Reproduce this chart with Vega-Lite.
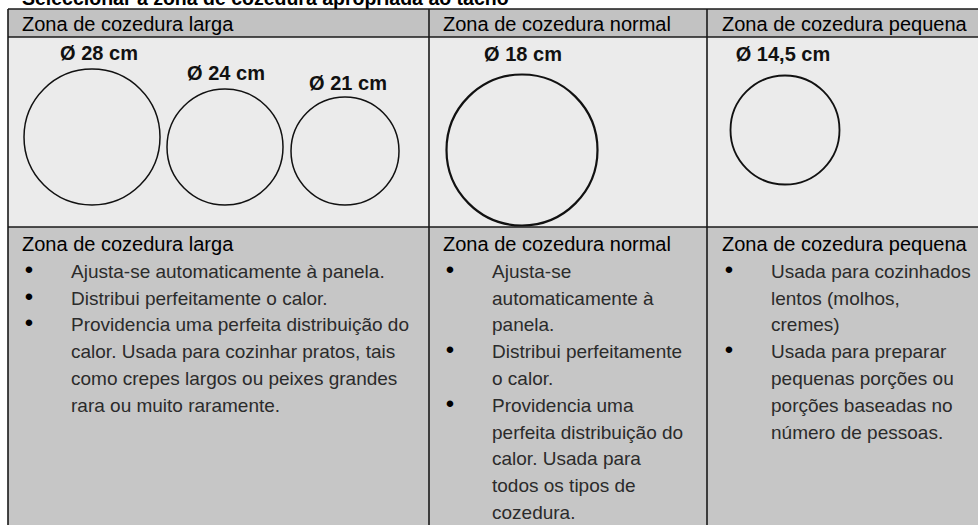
{
  "$schema": "https://vega.github.io/schema/vega-lite/v6.json",
  "width": 978,
  "height": 525,
  "autosize": {"type": "none"},
  "padding": 0,
  "background": "white",
  "config": {"view": {"stroke": null}},
  "datasets": {
    "faixas": [
      {"faixa": "cabecalho", "esq": 8, "dir": 978, "topo": 9, "base": 37},
      {"faixa": "circulos", "esq": 8, "dir": 978, "topo": 37, "base": 227},
      {"faixa": "descricao", "esq": 8, "dir": 978, "topo": 227, "base": 525}
    ],
    "grelha": [
      {"x1": 8, "y1": 9, "x2": 978, "y2": 9},
      {"x1": 8, "y1": 37, "x2": 978, "y2": 37},
      {"x1": 8, "y1": 227, "x2": 978, "y2": 227},
      {"x1": 8, "y1": 9, "x2": 8, "y2": 525},
      {"x1": 429, "y1": 9, "x2": 429, "y2": 525},
      {"x1": 707, "y1": 9, "x2": 707, "y2": 525}
    ],
    "zonas": [
      {"zona": "larga", "diametro": "Ø 28 cm", "cx": 92, "cy": 137, "tracado": 136, "rx": 99, "ry": 60, "espessura": "fina"},
      {"zona": "larga", "diametro": "Ø 24 cm", "cx": 225, "cy": 147, "tracado": 116, "rx": 226, "ry": 80, "espessura": "fina"},
      {"zona": "larga", "diametro": "Ø 21 cm", "cx": 345, "cy": 151, "tracado": 108, "rx": 348, "ry": 90, "espessura": "fina"},
      {"zona": "normal", "diametro": "Ø 18 cm", "cx": 522, "cy": 150, "tracado": 151, "rx": 523, "ry": 61, "espessura": "grossa"},
      {"zona": "pequena", "diametro": "Ø 14,5 cm", "cx": 785, "cy": 130, "tracado": 109, "rx": 783, "ry": 61, "espessura": "media"}
    ],
    "cabecalhos": [
      {"nivel": 0, "coluna": 0, "texto": "Seleccionar a zona de cozedura apropriada ao tacho"},
      {"nivel": 1, "coluna": 0, "texto": "Zona de cozedura larga"},
      {"nivel": 1, "coluna": 1, "texto": "Zona de cozedura normal"},
      {"nivel": 1, "coluna": 2, "texto": "Zona de cozedura pequena"}
    ],
    "descricao": [
      {"coluna": 0, "linha": 0, "texto": "Zona de cozedura larga", "marcador": false},
      {"coluna": 0, "linha": 1, "texto": "Ajusta-se automaticamente à panela.", "marcador": true},
      {"coluna": 0, "linha": 2, "texto": "Distribui perfeitamente o calor.", "marcador": true},
      {"coluna": 0, "linha": 3, "texto": "Providencia uma perfeita distribuição do", "marcador": true},
      {"coluna": 0, "linha": 4, "texto": "calor. Usada para cozinhar pratos, tais", "marcador": false},
      {"coluna": 0, "linha": 5, "texto": "como crepes largos ou peixes grandes", "marcador": false},
      {"coluna": 0, "linha": 6, "texto": "rara ou muito raramente.", "marcador": false},
      {"coluna": 1, "linha": 0, "texto": "Zona de cozedura normal", "marcador": false},
      {"coluna": 1, "linha": 1, "texto": "Ajusta-se", "marcador": true},
      {"coluna": 1, "linha": 2, "texto": "automaticamente à", "marcador": false},
      {"coluna": 1, "linha": 3, "texto": "panela.", "marcador": false},
      {"coluna": 1, "linha": 4, "texto": "Distribui perfeitamente", "marcador": true},
      {"coluna": 1, "linha": 5, "texto": "o calor.", "marcador": false},
      {"coluna": 1, "linha": 6, "texto": "Providencia uma", "marcador": true},
      {"coluna": 1, "linha": 7, "texto": "perfeita distribuição do", "marcador": false},
      {"coluna": 1, "linha": 8, "texto": "calor. Usada para", "marcador": false},
      {"coluna": 1, "linha": 9, "texto": "todos os tipos de", "marcador": false},
      {"coluna": 1, "linha": 10, "texto": "cozedura.", "marcador": false},
      {"coluna": 2, "linha": 0, "texto": "Zona de cozedura pequena", "marcador": false},
      {"coluna": 2, "linha": 1, "texto": "Usada para cozinhados", "marcador": true},
      {"coluna": 2, "linha": 2, "texto": "lentos (molhos,", "marcador": false},
      {"coluna": 2, "linha": 3, "texto": "cremes)", "marcador": false},
      {"coluna": 2, "linha": 4, "texto": "Usada para preparar", "marcador": true},
      {"coluna": 2, "linha": 5, "texto": "pequenas porções ou", "marcador": false},
      {"coluna": 2, "linha": 6, "texto": "porções baseadas no", "marcador": false},
      {"coluna": 2, "linha": 7, "texto": "número de pessoas.", "marcador": false}
    ]
  },
  "layer": [
    {
      "data": {"name": "faixas"},
      "mark": {"type": "rect"},
      "encoding": {
        "x": {"field": "esq", "type": "quantitative", "scale": {"domain": [0, 978], "range": [0, 978], "nice": false, "zero": false}, "axis": null},
        "x2": {"field": "dir"},
        "y": {"field": "topo", "type": "quantitative", "scale": {"domain": [0, 525], "range": [0, 525], "nice": false, "zero": false}, "axis": null},
        "y2": {"field": "base"},
        "fill": {"field": "faixa", "type": "nominal", "scale": {"domain": ["cabecalho", "circulos", "descricao"], "range": ["#c2c2c2", "#ebebeb", "#c6c6c6"]}, "legend": null}
      }
    },
    {
      "data": {"name": "grelha"},
      "mark": {"type": "rule", "color": "#1a1a1a", "strokeWidth": 1.6},
      "encoding": {
        "x": {"field": "x1", "type": "quantitative", "scale": {"domain": [0, 978], "range": [0, 978], "nice": false, "zero": false}, "axis": null},
        "x2": {"field": "x2"},
        "y": {"field": "y1", "type": "quantitative", "scale": {"domain": [0, 525], "range": [0, 525], "nice": false, "zero": false}, "axis": null},
        "y2": {"field": "y2"}
      }
    },
    {
      "data": {"name": "zonas"},
      "mark": {"type": "point", "shape": "circle", "filled": false, "color": "#111", "opacity": 1},
      "encoding": {
        "x": {"field": "cx", "type": "quantitative", "scale": {"domain": [0, 978], "range": [0, 978], "nice": false, "zero": false}, "axis": null},
        "y": {"field": "cy", "type": "quantitative", "scale": {"domain": [0, 525], "range": [0, 525], "nice": false, "zero": false}, "axis": null},
        "size": {"field": "tracado", "type": "quantitative", "scale": {"type": "pow", "exponent": 2, "domain": [0, 200], "range": [0, 40000]}, "legend": null},
        "strokeWidth": {"field": "espessura", "type": "nominal", "scale": {"domain": ["fina", "media", "grossa"], "range": [1.5, 2.2, 3]}, "legend": null}
      }
    },
    {
      "data": {"name": "zonas"},
      "mark": {"type": "text", "font": "Liberation Sans", "fontWeight": "bold", "fontSize": 20, "color": "#111", "align": "center", "baseline": "alphabetic"},
      "encoding": {
        "x": {"field": "rx", "type": "quantitative", "scale": {"domain": [0, 978], "range": [0, 978], "nice": false, "zero": false}, "axis": null},
        "y": {"field": "ry", "type": "quantitative", "scale": {"domain": [0, 525], "range": [0, 525], "nice": false, "zero": false}, "axis": null},
        "text": {"field": "diametro"}
      }
    },
    {
      "data": {"name": "cabecalhos"},
      "transform": [{"filter": "datum.nivel == 0"}],
      "mark": {"type": "text", "font": "Liberation Sans", "fontWeight": "bold", "fontSize": 19.5, "color": "#000", "align": "left", "baseline": "alphabetic"},
      "encoding": {
        "x": {"field": "coluna", "type": "quantitative", "scale": {"domain": [0, 1, 2], "range": [22, 443, 722], "nice": false, "zero": false}, "axis": null},
        "y": {"field": "nivel", "type": "quantitative", "scale": {"domain": [0, 1], "range": [5, 31], "nice": false, "zero": false}, "axis": null},
        "text": {"field": "texto"}
      }
    },
    {
      "data": {"name": "cabecalhos"},
      "transform": [{"filter": "datum.nivel == 1"}],
      "mark": {"type": "text", "font": "Liberation Sans", "fontSize": 20, "color": "#000", "align": "left", "baseline": "alphabetic"},
      "encoding": {
        "x": {"field": "coluna", "type": "quantitative", "scale": {"domain": [0, 1, 2], "range": [22, 443, 722], "nice": false, "zero": false}, "axis": null},
        "y": {"field": "nivel", "type": "quantitative", "scale": {"domain": [0, 1], "range": [5, 31], "nice": false, "zero": false}, "axis": null},
        "text": {"field": "texto"}
      }
    },
    {
      "data": {"name": "descricao"},
      "transform": [{"filter": "datum.linha == 0"}],
      "mark": {"type": "text", "font": "Liberation Sans", "fontSize": 20, "color": "#000", "align": "left", "baseline": "alphabetic"},
      "encoding": {
        "x": {"field": "coluna", "type": "quantitative", "scale": {"domain": [0, 1, 2], "range": [22, 443, 722], "nice": false, "zero": false}, "axis": null},
        "y": {"field": "linha", "type": "quantitative", "scale": {"domain": [0, 10], "range": [251, 519], "nice": false, "zero": false}, "axis": null},
        "text": {"field": "texto"}
      }
    },
    {
      "data": {"name": "descricao"},
      "transform": [{"filter": "datum.linha > 0"}],
      "mark": {"type": "text", "font": "Liberation Sans", "fontSize": 19, "color": "#2b2b2b", "align": "left", "baseline": "alphabetic", "dx": 49},
      "encoding": {
        "x": {"field": "coluna", "type": "quantitative", "scale": {"domain": [0, 1, 2], "range": [22, 443, 722], "nice": false, "zero": false}, "axis": null},
        "y": {"field": "linha", "type": "quantitative", "scale": {"domain": [0, 10], "range": [251, 519], "nice": false, "zero": false}, "axis": null},
        "text": {"field": "texto"}
      }
    },
    {
      "data": {"name": "descricao"},
      "transform": [{"filter": "datum.marcador"}],
      "mark": {"type": "text", "text": "•", "font": "Liberation Sans", "fontSize": 24, "color": "#000", "align": "center", "baseline": "alphabetic", "dx": 7},
      "encoding": {
        "x": {"field": "coluna", "type": "quantitative", "scale": {"domain": [0, 1, 2], "range": [22, 443, 722], "nice": false, "zero": false}, "axis": null},
        "y": {"field": "linha", "type": "quantitative", "scale": {"domain": [0, 10], "range": [251, 519], "nice": false, "zero": false}, "axis": null}
      }
    }
  ],
  "resolve": {"scale": {"x": "independent", "y": "independent", "size": "independent", "strokeWidth": "independent", "fill": "independent"}}
}
